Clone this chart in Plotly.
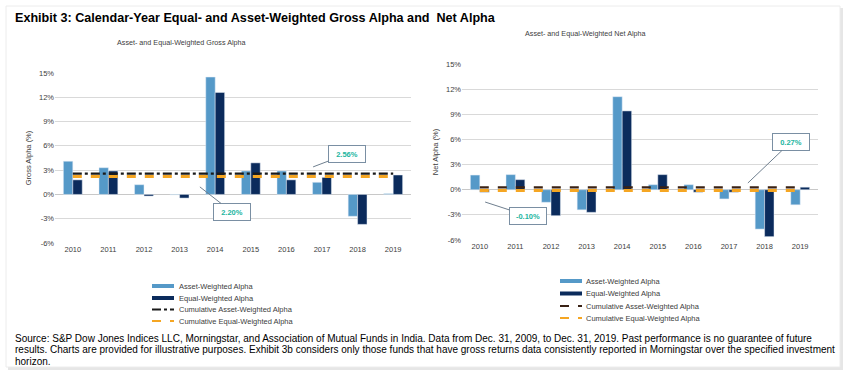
import plotly.graph_objects as go

years = ["2010", "2011", "2012", "2013", "2014", "2015", "2016", "2017", "2018", "2019"]
gross_asset = [4.1, 3.3, 1.2, -0.05, 14.5, 2.9, 2.9, 1.5, -2.7, 0.1]
gross_equal = [1.8, 2.9, -0.2, -0.45, 12.6, 3.9, 1.8, 2.1, -3.7, 2.4]
gross_cum_asset = 2.56
gross_cum_equal = 2.20
net_asset = [1.75, 1.8, -1.5, -2.4, 11.1, 0.6, 0.6, -1.1, -4.7, -1.8]
net_equal = [-0.3, 1.2, -3.1, -2.7, 9.4, 1.8, -0.3, -0.3, -5.6, 0.3]
net_cum_asset = 0.27
net_cum_equal = -0.10
y_ticks = [-6, -3, 0, 3, 6, 9, 12, 15]
legend_names = ["Asset-Weighted Alpha", "Equal-Weighted Alpha",
                "Cumulative Asset-Weighted Alpha", "Cumulative Equal-Weighted Alpha"]
source_lines = [
    "Source: S&P Dow Jones Indices LLC, Morningstar, and Association of Mutual Funds in India. Data from Dec. 31, 2009, to Dec. 31, 2019. Past performance is no guarantee of future",
    "results. Charts are provided for illustrative purposes. Exhibit 3b considers only those funds that have gross returns data consistently reported in Morningstar over the specified investment",
    "horizon.",
]

C_ASSET = "#5599C8"
C_EQUAL = "#0B2B5C"
C_ORANGE = "#F5A623"
C_TEAL = "#22B5A0"
C_TXT = "#404040"
FONT = "Liberation Sans, Arial, sans-serif"
W, H = 846, 378

fig = go.Figure()

def add_panel(xa, ya, asset, equal, cum_a, cum_e, cum_a_color, cum_a_dash):
    fig.add_trace(go.Bar(x=years, y=asset, marker_color=C_ASSET, xaxis=xa, yaxis=ya,
                         showlegend=False, offsetgroup="a", name=legend_names[0]))
    fig.add_trace(go.Bar(x=years, y=equal, marker_color=C_EQUAL, xaxis=xa, yaxis=ya,
                         showlegend=False, offsetgroup="e", name=legend_names[1]))
    fig.add_trace(go.Scatter(x=years, y=[cum_a] * len(years), mode="lines", xaxis=xa, yaxis=ya,
                             line=dict(color=cum_a_color, width=2.2, dash=cum_a_dash),
                             showlegend=False, name=legend_names[2]))
    fig.add_trace(go.Scatter(x=years, y=[cum_e] * len(years), mode="lines", xaxis=xa, yaxis=ya,
                             line=dict(color=C_ORANGE, width=3, dash="dash"),
                             showlegend=False, name=legend_names[3]))

add_panel("x", "y", gross_asset, gross_equal, gross_cum_asset, gross_cum_equal, "#1a1a1a", "dashdot")
add_panel("x2", "y2", net_asset, net_equal, net_cum_asset, net_cum_equal, "#3a2215", "dash")

tickfont = dict(family=FONT, size=7.5, color=C_TXT)
axis_common = dict(showline=False, zeroline=False, ticks="", tickfont=tickfont, automargin=False)
yaxis_common = dict(range=[-6, 15], tickvals=y_ticks, ticktext=[f"{v}%" for v in y_ticks],
                    showgrid=True, gridcolor="#d9d9d9", gridwidth=1, zeroline=True,
                    zerolinecolor="#c8c8c8", zerolinewidth=1, ticks="",
                    tickfont=tickfont, showline=False, automargin=False)

fig.update_layout(
    width=W, height=H,
    margin=dict(l=0, r=0, t=0, b=0, autoexpand=False),
    paper_bgcolor="#ffffff", plot_bgcolor="rgba(0,0,0,0)",
    showlegend=False,
    barmode="group", bargap=0.47, bargroupgap=0,
    xaxis=dict(domain=[55 / W, 411 / W], anchor="y", type="category", showgrid=False, **axis_common),
    yaxis=dict(domain=[1 - 243 / H, 1 - 73 / H], anchor="x",
               title=dict(text="Gross Alpha (%)", font=dict(family=FONT, size=7.5, color=C_TXT), standoff=6),
               **yaxis_common),
    xaxis2=dict(domain=[462 / W, 818 / W], anchor="y2", type="category", showgrid=False, **axis_common),
    yaxis2=dict(domain=[1 - 240 / H, 1 - 64 / H], anchor="x2",
                title=dict(text="Net Alpha (%)", font=dict(family=FONT, size=7.5, color=C_TXT), standoff=6),
                **yaxis_common),
)

# card background
fig.add_shape(type="rect", xref="paper", yref="paper", x0=8 / W, x1=843 / W, y0=1 - 370 / H, y1=1 - 8 / H,
              line=dict(width=0), fillcolor="#e6e6e6", layer="below")
fig.add_shape(type="rect", xref="paper", yref="paper", x0=6 / W, x1=840 / W, y0=1 - 367 / H, y1=1 - 6 / H,
              line=dict(color="#ececec", width=1), fillcolor="#ffffff", layer="below")

def pa(text, x, y, size, color="#000000", xanchor="left", family=FONT):
    fig.add_annotation(xref="paper", yref="paper", showarrow=False, text=text,
                       x=x / W, y=1 - y / H, xanchor=xanchor, yanchor="middle",
                       font=dict(family=family, size=size, color=color))

pa("<b>Exhibit 3: Calendar-Year Equal- and Asset-Weighted Gross Alpha and  Net Alpha</b>", 13, 18, 12.6)
pa("Asset- and Equal-Weighted Gross Alpha", 181, 43, 7.2, C_TXT, "center")
pa("Asset- and Equal-Weighted Net Alpha", 585, 33, 7.2, C_TXT, "center")
for i, line in enumerate(source_lines):
    pa(line, 13, 338 + i * 11.6, 10)

# manual legends
legend_specs = [
    (152, 177, [286, 298, 309.5, 321], ["#1a1a1a", "dashdot"]),
    (560, 584, [281, 293.5, 306, 318], ["#3a2215", "dash"]),
]
for sx, tx, ys, (cum_col, cum_dash) in legend_specs:
    styles = [(C_ASSET, 4, "solid"), (C_EQUAL, 4, "solid"), (cum_col, 1.8, cum_dash), (C_ORANGE, 1.8, "dash")]
    for name, yy, (col, wd, ds) in zip(legend_names, ys, styles):
        fig.add_shape(type="line", xref="paper", yref="paper", x0=sx / W, x1=(sx + 22) / W,
                      y0=1 - yy / H, y1=1 - yy / H, line=dict(color=col, width=wd, dash=ds))
        pa(name, tx, yy, 7.5, C_TXT)

# callout boxes
callouts = [
    ("x", "y", 6.75, 3.4, f"{gross_cum_asset:.2f}%", 34, -13),
    ("x", "y", 3.57, 0.93, f"{gross_cum_equal:.2f}%", 32, 25),
    ("x2", "y2", 7.53, 0.8, f"{net_cum_asset:.2f}%", 43, -41),
    ("x2", "y2", 0.15, -1.47, f"{net_cum_equal:.2f}%", 43, 14),
]
for xa, ya, xv, yv, txt, ax, ay in callouts:
    fig.add_annotation(xref=xa, yref=ya, x=xv, y=yv, text=f"<b>{txt}</b>", showarrow=True,
                       arrowhead=0, arrowwidth=1, arrowcolor="#6f7f8f", ax=ax, ay=ay,
                       bgcolor="#ffffff", bordercolor="#7a8fa3", borderwidth=1, borderpad=3,
                       width=30, height=10,
                       font=dict(family=FONT, size=7.5, color=C_TEAL))

fig.write_html("out.html", config={"displayModeBar": False},
               post_script="document.body.style.margin='0';document.body.style.overflow='hidden';")
